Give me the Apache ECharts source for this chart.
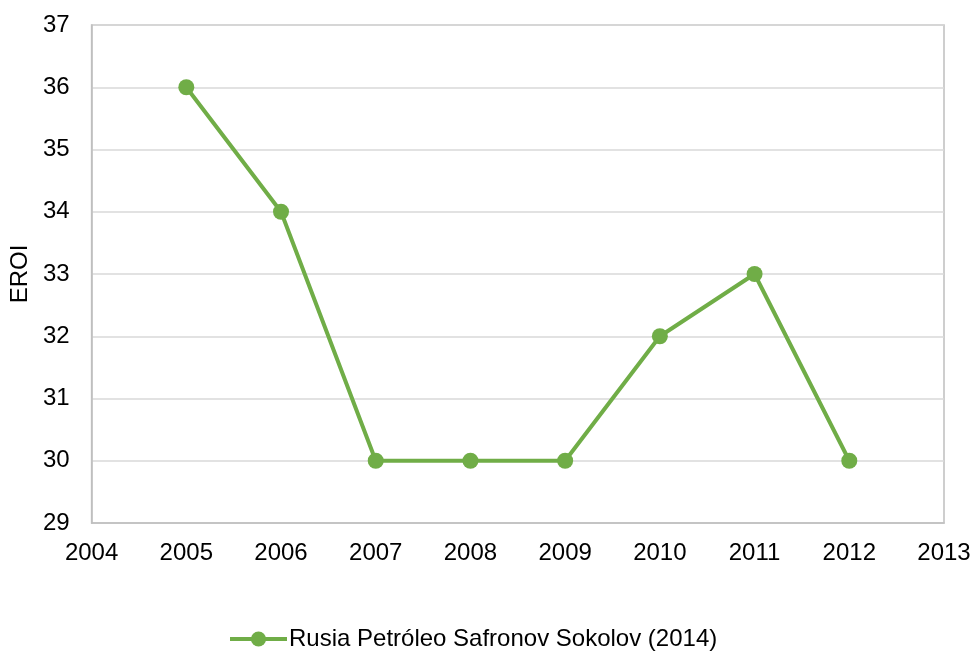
<!DOCTYPE html>
<html>
<head>
<meta charset="utf-8">
<script src="https://cdn.jsdelivr.net/npm/echarts@6/dist/echarts.min.js"></script>
<style>
  html, body { margin: 0; padding: 0; background: #fff; }
  #chart { width: 974px; height: 654px; }
</style>
</head>
<body>
<div id="chart"></div>
<script>
var years = [2005, 2006, 2007, 2008, 2009, 2010, 2011, 2012];
var eroi = [36, 34, 30, 30, 30, 32, 33, 30];
var seriesName = 'Rusia Petróleo Safronov Sokolov (2014)';

var myChart = echarts.init(document.getElementById('chart'));
var font = 'Liberation Sans, Arial, sans-serif';
var option = {
    animation: false,
    grid: {
      left: 91,
      right: 30,
      top: 25,
      bottom: 131,
      show: true,
      borderColor: '#BFBFBF',
      borderWidth: 1.5
    },
    legend: {
      data: [seriesName],
      left: 228,
      top: 627,
      padding: 0,
      itemWidth: 57,
      itemHeight: 19,
      itemGap: 4,
      lineStyle: { width: 4 },
      textStyle: { fontSize: 24, color: '#000', fontFamily: font, padding: [0, 0, 0, -3] }
    },
    xAxis: {
      type: 'value',
      min: 2004,
      max: 2013,
      interval: 1,
      axisLine: { show: true, lineStyle: { color: '#BFBFBF', width: 1.5 } },
      axisTick: { show: false },
      splitLine: { show: false },
      axisLabel: {
        fontSize: 24, color: '#000', fontFamily: font, margin: 18,
        formatter: function (v) { return String(v); }
      }
    },
    yAxis: {
      type: 'value',
      name: 'EROI',
      nameLocation: 'middle',
      nameGap: 48,
      nameRotate: 90,
      nameTextStyle: { fontSize: 24, color: '#000', fontFamily: font },
      min: 29,
      max: 37,
      interval: 1,
      axisLine: { show: true, lineStyle: { color: '#BFBFBF', width: 1.5 } },
      axisTick: { show: false },
      splitLine: { show: true, lineStyle: { color: '#D9D9D9', width: 1.5 } },
      axisLabel: { fontSize: 24, color: '#000', fontFamily: font, margin: 22 }
    },
    series: [
      {
        name: seriesName,
        type: 'line',
        data: years.map(function (y, i) { return [y, eroi[i]]; }),
        symbol: 'circle',
        symbolSize: 16,
        itemStyle: { color: '#70AD47' },
        lineStyle: { color: '#70AD47', width: 4 }
      }
    ]
  };
myChart.setOption(option);
</script>
</body>
</html>
